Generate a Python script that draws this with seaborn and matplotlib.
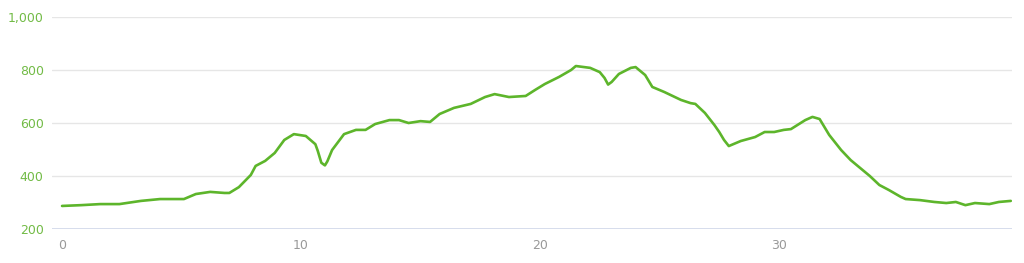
import matplotlib
matplotlib.use("Agg")
import matplotlib.pyplot as plt
import seaborn as sns
import pandas as pd
from matplotlib.ticker import FuncFormatter

distance_km = [0.0, 0.8, 1.6, 2.4, 3.3, 4.1, 5.1, 5.6, 6.2, 6.8, 7.0, 7.4, 7.9, 8.1, 8.5,
               8.9, 9.3, 9.7, 10.2, 10.6, 10.7, 10.85, 11.0, 11.1, 11.3, 11.8, 12.3, 12.7, 13.1,
               13.7, 14.1, 14.5, 15.0, 15.4, 15.8, 16.4, 17.1, 17.7, 18.1, 18.7, 19.4,
               19.8, 20.2, 20.8, 21.3, 21.5, 22.1, 22.5, 22.7, 22.85, 23.0, 23.3, 23.8,
               24.0, 24.4, 24.7, 25.2, 25.9, 26.3, 26.5, 26.9, 27.3, 27.5, 27.7, 27.9,
               28.4, 29.0, 29.4, 29.8, 30.2, 30.5, 31.1, 31.4, 31.7, 32.1, 32.6, 33.0,
               33.4, 33.8, 34.2, 34.6, 35.1, 35.3, 35.9, 36.5, 37.0, 37.4, 37.8, 38.2,
               38.8, 39.2, 39.7]
elevation_m = [287, 290, 294, 294, 306, 313, 313, 332, 340, 336, 336, 358, 404, 438, 457,
               487, 536, 558, 551, 520, 495, 450, 440, 455, 498, 558, 574, 574, 596,
               611, 611, 600, 607, 604, 634, 657, 672, 698, 709, 698, 702,
               725, 747, 774, 800, 815, 808, 792, 770, 745, 755, 785, 808,
               811, 781, 736, 717, 687, 675, 672, 638, 592, 566, 536, 513,
               532, 547, 566, 566, 574, 577, 611, 623, 615, 555, 498, 460,
               430, 400, 366, 347, 321, 313, 309, 302, 298, 302, 290, 298,
               294, 302, 306]
x_ticks = [0, 10, 20, 30]
y_ticks = [200, 400, 600, 800, 1000]

df = pd.DataFrame({"distance": distance_km, "elevation": elevation_m})

sns.set_theme(style="white")
plt.rcParams['font.family'] = ['DejaVu Sans']

fig = plt.figure(figsize=(10.24, 2.63), dpi=100)
ax = fig.add_axes([52/1024, (263-229)/263, (1012-52)/1024, (229-17)/263])

sns.lineplot(data=df, x="distance", y="elevation", ax=ax, color="#5db52b",
             linewidth=1.9, estimator=None, sort=False,
             solid_joinstyle="round", solid_capstyle="round")

ax.set_xlim(-0.42, 39.75)
ax.set_ylim(200, 1000)
ax.set_xticks(x_ticks)
ax.set_yticks(y_ticks)
ax.yaxis.set_major_formatter(FuncFormatter(lambda v, p: f"{int(v):,}"))
ax.set_xlabel("")
ax.set_ylabel("")
for s in ax.spines.values():
    s.set_visible(False)
ax.grid(axis="y", color="#e6e6e6", linewidth=1)
ax.grid(axis="x", visible=False)
ax.axhline(200, color="#ccd6eb", linewidth=1.2, zorder=0.5)
ax.tick_params(axis="y", colors="#72bb46", labelsize=9, length=0, pad=6)
ax.tick_params(axis="x", colors="#999999", labelsize=9, length=0, pad=7)
for lbl in ax.get_yticklabels():
    lbl.set_color("#72bb46")
for lbl in ax.get_xticklabels():
    lbl.set_color("#999999")

fig.savefig("out.png", dpi=100)
